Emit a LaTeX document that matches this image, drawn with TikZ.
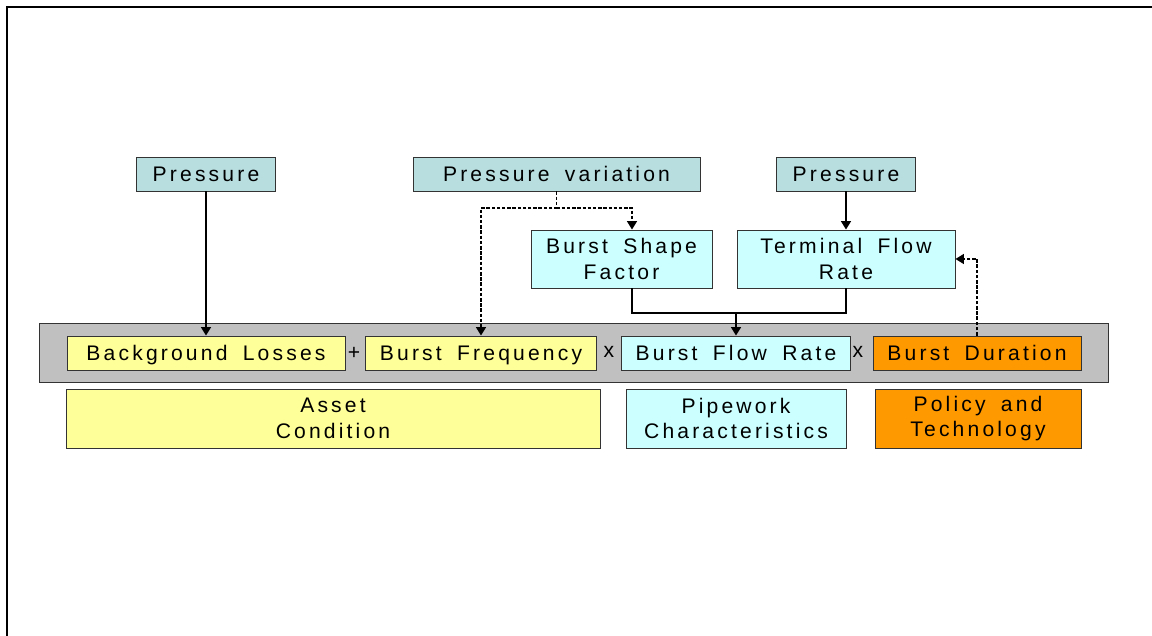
\documentclass[tikz,border=0pt]{standalone}
\usepackage{fontspec}
\setmainfont{Liberation Sans}[LetterSpace=15,WordSpace=1.7]
\usetikzlibrary{arrows.meta}
\definecolor{teal0}{RGB}{184,222,224}
\definecolor{cyan0}{RGB}{204,255,255}
\definecolor{yel0}{RGB}{255,255,153}
\definecolor{org0}{RGB}{255,153,0}
\definecolor{band0}{RGB}{192,192,192}
\tikzset{
	box/.style={draw=black!80,line width=0.6pt,inner sep=0pt,align=center,font=\fontsize{15}{18}\selectfont},
	onel/.style={box,minimum height=0.85cm,text height=10.7pt,text depth=0pt},
	src/.style={onel,fill=teal0},
	arr/.style={line width=1.3pt,-{Triangle[length=6pt,width=7pt]}},
	darr/.style={arr,dashed,dash pattern=on 2.5pt off 1.2pt},
}
\begin{document}
\begin{tikzpicture}[x=0.025cm,y=-0.025cm]
		\useasboundingbox (0,0) rectangle (1152,636);
		\draw[line width=2pt] (7,636) -- (7,7) -- (1152,7);
		\filldraw[fill=band0,draw=black!80,line width=0.6pt] (39,323) rectangle (1108,382);
		\node[src,minimum width=3.475cm] (p1) at (206,174) {Pressure};
		\node[src,minimum width=7.175cm] (pv) at (556.5,174) {Pressure variation};
		\node[src,minimum width=3.475cm] (p2) at (846,174) {Pressure};
		\node[box,fill=cyan0,minimum width=4.525cm,minimum height=1.45cm] (bsf) at (621.5,259) {Burst Shape\\Factor};
		\node[box,fill=cyan0,minimum width=5.45cm,minimum height=1.45cm] (tfr) at (846,259) {Terminal Flow\\Rate};
		\node[onel,fill=yel0,minimum width=6.95cm] (bl) at (206,353) {Background Losses};
		\node[onel,fill=yel0,minimum width=5.775cm] (bf) at (481,353) {Burst Frequency};
		\node[onel,fill=cyan0,minimum width=5.725cm] (bfr) at (736,353) {Burst Flow Rate};
		\node[onel,fill=org0,minimum width=5.2cm] (bd) at (977,353) {Burst Duration};
		\node[font=\fontsize{15}{18}\selectfont,inner sep=0pt] (plus) at (354,353) {+};
		\node[font=\fontsize{15}{18}\selectfont,inner sep=0pt] (mul1) at (609,352) {x};
		\node[font=\fontsize{15}{18}\selectfont,inner sep=0pt] (mul2) at (858,352) {x};
		\node[box,fill=yel0,minimum width=13.35cm,minimum height=1.475cm] (ac) at (333,418.5) {Asset\\Condition};
		\node[box,fill=cyan0,minimum width=5.5cm,minimum height=1.475cm] (pc) at (736,418.5) {Pipework\\Characteristics};
		\node[box,fill=org0,minimum width=5.15cm,minimum height=1.475cm] (pt) at (978,418.5) {Policy and\\Technology};
		\coordinate (pvj) at (556.5,208);
		\coordinate (mrg) at (736,313);
		\draw[arr] (p1) -- (bl);
		\draw[arr] (p2) -- (tfr);
		\draw[darr] (pv.south) -- (pvj) -| (bf.north);
		\draw[darr] (pvj) -| ([xshift=0.2625cm]bsf.north);
		\draw[line width=1.3pt] ([xshift=0.2625cm]bsf.south) |- (mrg) -| (tfr.south);
		\draw[arr] (mrg) -- (bfr.north);
		\draw[darr] (bd.north) |- (tfr.east);
	\end{tikzpicture}
\end{document}
